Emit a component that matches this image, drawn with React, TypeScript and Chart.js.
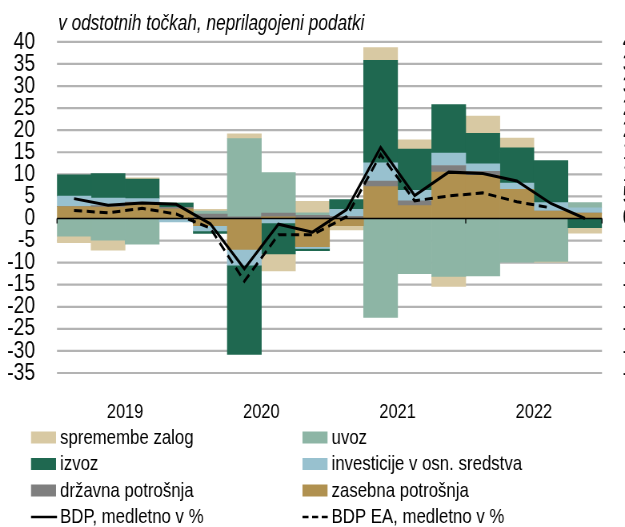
import React, { useEffect, useRef } from "react";
import { Chart, registerables } from "chart.js";

Chart.register(...registerables);

const quarters = [
  "2019Q1", "2019Q2", "2019Q3", "2019Q4",
  "2020Q1", "2020Q2", "2020Q3", "2020Q4",
  "2021Q1", "2021Q2", "2021Q3", "2021Q4",
  "2022Q1", "2022Q2", "2022Q3", "2022Q4",
];
const years = ["2019", "2020", "2021", "2022"];

const zasebna = [2.7, 2.6, 3.4, 2.2, -1.6, -7.0, 0.4, -6.4, -1.6, 7.2, 2.9, 10.5, 9.8, 6.6, 1.7, 1.2];
const drzavna = [0, 0.3, 0.3, 0.3, 1.0, 0.4, 0.8, 0.7, 0.5, 1.3, 1.1, 1.5, 0.9, 0, 0, 0];
const investicije = [2.4, 1.7, 0.8, -0.8, -1.2, -3.6, -1.0, -0.4, 1.6, 4.1, 2.4, 2.8, 1.7, 1.4, 1.9, 1.2];
const izvoz = [4.8, 5.6, 4.4, 1.0, -0.6, -20.2, -7.0, -0.5, 2.2, 23.2, 9.3, 11.0, 6.9, 8.0, 9.5, -2.1];
const uvoz = [-4.0, -4.9, -5.8, 0, 0.7, 17.7, 9.2, 0.6, 0, -22.4, -12.5, -13.1, -13.0, -9.9, -9.7, 1.2];
const zalog = [-1.5, -2.3, 0.3, 0, 0.4, 1.1, -3.9, 2.6, -1.0, 2.9, 2.1, -2.3, 3.9, 2.2, -0.2, -1.2];
const bdp = [4.5, 3.0, 3.5, 3.2, -1.2, -11.4, -1.3, -3.1, 2.0, 16.1, 5.2, 10.5, 10.2, 8.5, 3.4, 0.0];
const bdpEA = [1.8, 1.3, 2.3, 1.0, -2.2, -14.2, -3.7, -3.7, 0.4, 14.5, 4.0, 5.1, 5.8, 3.8, 2.4, null];

const yMin = -35;
const yMax = 40;
const yStep = 5;

const title = "v odstotnih točkah, neprilagojeni podatki";

const C_ZALOG = "#D8C9A3";
const C_UVOZ = "#8DB5A5";
const C_IZVOZ = "#1F6850";
const C_INV = "#98C1CF";
const C_DRZ = "#7F7F7F";
const C_ZAS = "#B09150";
const C_GRID = "#b3b3b3";

const legendItems = [
  { label: "spremembe zalog", color: C_ZALOG, kind: "box" },
  { label: "uvoz", color: C_UVOZ, kind: "box" },
  { label: "izvoz", color: C_IZVOZ, kind: "box" },
  { label: "investicije v osn. sredstva", color: C_INV, kind: "box" },
  { label: "državna potrošnja", color: C_DRZ, kind: "box" },
  { label: "zasebna potrošnja", color: C_ZAS, kind: "box" },
  { label: "BDP, medletno v %", color: "#000", kind: "line" },
  { label: "BDP EA, medletno v %", color: "#000", kind: "dash" },
];

const FONT = "'Liberation Sans', Arial, sans-serif";

// the canvas is drawn wider and shown horizontally condensed (narrow type look)
const OUT_W = 625;
const OUT_H = 527;
const CW = 781;
const K = CW / OUT_W;

const overlayPlugin = {
  id: "overlay",
  beforeDatasetsDraw(chart: any) {
    const { ctx, chartArea } = chart;
    const ys = chart.scales.y;
    ctx.save();
    ctx.strokeStyle = C_GRID;
    ctx.lineWidth = 2.2;
    for (let v = yMin; v <= yMax; v += yStep) {
      if (v === 0) continue;
      const y = ys.getPixelForValue(v);
      ctx.beginPath();
      ctx.moveTo(chartArea.left, y);
      ctx.lineTo(chartArea.right, y);
      ctx.stroke();
    }
    ctx.restore();
  },
  afterDatasetsDraw(chart: any) {
    const { ctx, chartArea } = chart;
    const y = chart.scales.y.getPixelForValue(0);
    ctx.save();
    ctx.strokeStyle = "#000";
    ctx.lineWidth = 1.5;
    ctx.beginPath();
    ctx.moveTo(chartArea.left, y);
    ctx.lineTo(chartArea.right, y);
    ctx.stroke();
    ctx.lineWidth = 1.3;
    const w = (chartArea.right - chartArea.left) / years.length;
    for (let i = 0; i <= years.length; i++) {
      const x = chartArea.left + i * w;
      ctx.beginPath();
      ctx.moveTo(x, y);
      ctx.lineTo(x, y + 5);
      ctx.stroke();
    }
    ctx.restore();
  },
  afterDraw(chart: any) {
    const { ctx, chartArea } = chart;
    ctx.save();
    ctx.fillStyle = "#000";
    ctx.font = `italic 21.5px ${FONT}`;
    ctx.textBaseline = "alphabetic";
    ctx.textAlign = "left";
    ctx.fillText(title, chartArea.left + 1.5, 30);

    ctx.font = `21px ${FONT}`;
    ctx.textBaseline = "middle";
    const colX = [31 * K, 302.5 * K];
    const rowY = [437.5, 464, 490.5, 517];
    legendItems.forEach((it, i) => {
      const col = i % 2;
      const row = Math.floor(i / 2);
      const x = colX[col];
      const yy = rowY[row];
      if (it.kind === "box") {
        ctx.fillStyle = it.color;
        ctx.fillRect(x, yy - 6, 25 * K, 12);
      } else {
        ctx.strokeStyle = it.color;
        ctx.lineWidth = 2.5;
        ctx.setLineDash(it.kind === "dash" ? [7.5, 4.5] : []);
        ctx.beginPath();
        ctx.moveTo(x, yy);
        ctx.lineTo(x + 26 * K, yy);
        ctx.stroke();
        ctx.setLineDash([]);
      }
      ctx.fillStyle = "#000";
      ctx.fillText(it.label, x + 29 * K, yy + 0.5);
    });
    ctx.restore();
  },
};

export default function App() {
  const ref = useRef<HTMLCanvasElement | null>(null);

  useEffect(() => {
    if (!ref.current) return;
    const bar = (label: string, data: number[], color: string) => ({
      type: "bar" as const,
      label,
      data,
      backgroundColor: color,
      borderWidth: 0,
      barPercentage: 1,
      categoryPercentage: 1,
      order: 2,
    });
    const chart = new Chart(ref.current, {
      type: "bar",
      data: {
        labels: quarters,
        datasets: [
          bar("zasebna potrošnja", zasebna, C_ZAS),
          bar("državna potrošnja", drzavna, C_DRZ),
          bar("investicije v osn. sredstva", investicije, C_INV),
          bar("izvoz", izvoz, C_IZVOZ),
          bar("uvoz", uvoz, C_UVOZ),
          bar("spremembe zalog", zalog, C_ZALOG),
          {
            type: "line" as const,
            label: "BDP, medletno v %",
            data: bdp,
            borderColor: "#000",
            borderWidth: 3,
            pointRadius: 0,
            tension: 0,
            stack: "l1",
            order: 0,
          } as any,
          {
            type: "line" as const,
            label: "BDP EA, medletno v %",
            data: bdpEA,
            borderColor: "#000",
            borderWidth: 3,
            borderDash: [10, 6],
            pointRadius: 0,
            tension: 0,
            stack: "l2",
            order: 0,
          } as any,
        ],
      },
      options: {
        animation: false,
        responsive: false,
        devicePixelRatio: 1,
        layout: { padding: { top: 38, left: 0, right: 0, bottom: 104 } },
        plugins: {
          legend: { display: false },
          tooltip: { enabled: false },
          title: { display: false },
        },
        scales: {
          x: {
            type: "category",
            stacked: true,
            display: false,
            offset: true,
          },
          xYear: {
            type: "category",
            labels: years,
            position: "bottom",
            offset: true,
            grid: { display: false, drawTicks: false },
            border: { display: false },
            ticks: {
              color: "#000",
              font: { family: FONT, size: 20.5 },
              padding: 27,
              maxRotation: 0,
              autoSkip: false,
            },
            afterFit: (s: any) => {
              s.height = 50;
            },
          },
          y: {
            position: "left",
            stacked: true,
            min: yMin,
            max: yMax,
            ticks: {
              stepSize: yStep,
              autoSkip: false,
              color: "#000",
              font: { family: FONT, size: 24 },
              padding: 27.5,
            },
            grid: { display: false, drawTicks: false },
            border: { display: false },
            afterFit: (s: any) => {
              s.width = 57 * K;
            },
          },
          y2: {
            position: "right",
            min: yMin,
            max: yMax,
            ticks: {
              stepSize: yStep,
              autoSkip: false,
              color: "#000",
              font: { family: FONT, size: 24 },
              padding: 26,
            },
            grid: { display: false, drawTicks: false },
            border: { display: false },
            afterFit: (s: any) => {
              s.width = CW - 602 * K;
            },
          },
        } as any,
      },
      plugins: [overlayPlugin],
    });
    return () => chart.destroy();
  }, []);

  return (
    <div style={{ position: "absolute", left: 0, top: 0, width: OUT_W, height: OUT_H, overflow: "hidden", background: "#fff" }}>
      <canvas
        ref={ref}
        width={CW}
        height={OUT_H}
        style={{ display: "block", width: OUT_W + "px", height: OUT_H + "px" }}
      />
    </div>
  );
}
